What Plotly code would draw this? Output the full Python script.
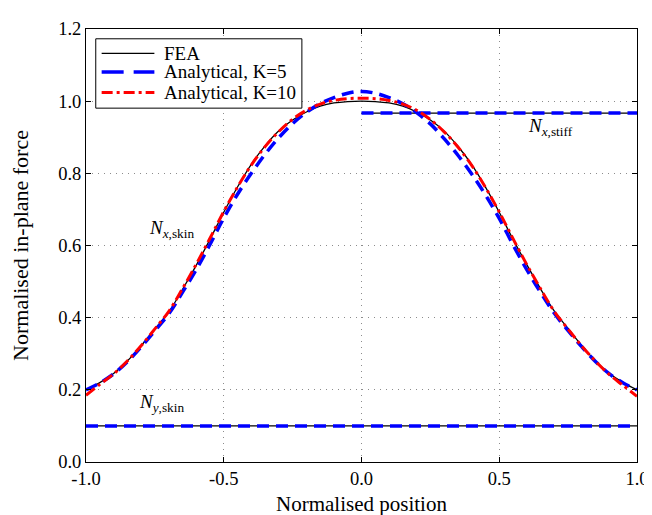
import plotly.graph_objects as go

# ---- data ----
x_pos = [-1.0, -0.95, -0.9, -0.85, -0.8, -0.75, -0.7, -0.65, -0.6, -0.55, -0.5,
         -0.45, -0.4, -0.35, -0.3, -0.25, -0.2, -0.15, -0.1, -0.05, 0.0,
         0.05, 0.1, 0.15, 0.2, 0.25, 0.3, 0.35, 0.4, 0.45, 0.5,
         0.55, 0.6, 0.65, 0.7, 0.75, 0.8, 0.85, 0.9, 0.95, 1.0]

fea_nx_skin = [0.200, 0.220, 0.245, 0.280, 0.322, 0.369, 0.415, 0.478, 0.545, 0.617, 0.692,
               0.762, 0.825, 0.876, 0.918, 0.948, 0.970, 0.986, 0.995, 0.999, 1.000,
               0.999, 0.995, 0.986, 0.970, 0.948, 0.917, 0.875, 0.824, 0.762, 0.692,
               0.617, 0.547, 0.480, 0.418, 0.370, 0.322, 0.280, 0.245, 0.220, 0.200]

k5_nx_skin = [0.200, 0.219, 0.244, 0.278, 0.319, 0.364, 0.410, 0.470, 0.533, 0.603, 0.676,
              0.742, 0.800, 0.853, 0.899, 0.938, 0.969, 0.993, 1.010, 1.022, 1.027,
              1.022, 1.010, 0.993, 0.968, 0.937, 0.896, 0.850, 0.798, 0.740, 0.675,
              0.602, 0.533, 0.470, 0.412, 0.364, 0.319, 0.278, 0.244, 0.219, 0.200]

k10_nx_skin = [0.185, 0.215, 0.244, 0.280, 0.322, 0.369, 0.417, 0.480, 0.548, 0.620, 0.694,
               0.762, 0.823, 0.874, 0.916, 0.950, 0.975, 0.992, 1.002, 1.007, 1.008,
               1.007, 1.002, 0.992, 0.975, 0.949, 0.915, 0.873, 0.822, 0.761, 0.693,
               0.619, 0.547, 0.480, 0.417, 0.368, 0.321, 0.279, 0.242, 0.212, 0.182]

x_stiff = [0.0, 1.0]
nx_stiff = [0.967, 0.967]

x_ny = [-1.0, 1.0]
ny_skin = [0.1, 0.1]

x_ticks = [-1.0, -0.5, 0.0, 0.5, 1.0]
x_ticktext = ["-1.0", "-0.5", "0.0", "0.5", "1.0"]
y_ticks = [0.0, 0.2, 0.4, 0.6, 0.8, 1.0, 1.2]
y_ticktext = ["0.0", "0.2", "0.4", "0.6", "0.8", "1.0", "1.2"]

labels = ["FEA", "Analytical, K=5", "Analytical, K=10"]

FONT = "Liberation Serif, Times New Roman, serif"
BLUE_DASH = "12px,7px"
RED_DASHDOT = "11px,4px,3px,4px"

styles = [
    dict(color="black", width=1.3, dash="solid"),
    dict(color="#0000ff", width=3.5, dash=BLUE_DASH),
    dict(color="#ff0000", width=3, dash=RED_DASHDOT),
]

fig = go.Figure()

# FEA (black)
fig.add_trace(go.Scatter(x=x_pos, y=fea_nx_skin, mode="lines", name=labels[0],
                         line=styles[0], line_shape="spline"))
fig.add_trace(go.Scatter(x=x_stiff, y=nx_stiff, mode="lines", name=labels[0],
                         line=styles[0]))
fig.add_trace(go.Scatter(x=x_ny, y=ny_skin, mode="lines", name=labels[0],
                         line=styles[0]))

# Analytical K=5 (blue dashed)
fig.add_trace(go.Scatter(x=x_pos, y=k5_nx_skin, mode="lines", name=labels[1],
                         line=styles[1], line_shape="spline"))
fig.add_trace(go.Scatter(x=x_stiff, y=nx_stiff, mode="lines", name=labels[1],
                         line=styles[1]))
fig.add_trace(go.Scatter(x=x_ny, y=ny_skin, mode="lines", name=labels[1],
                         line=styles[1]))

# Analytical K=10 (red dash-dot)
fig.add_trace(go.Scatter(x=x_pos, y=k10_nx_skin, mode="lines", name=labels[2],
                         line=styles[2], line_shape="spline"))

# ---- curve labels ----
annotations = [
    dict(x=-0.69, y=0.645, text="<i>N</i><sub><i>x</i>,skin</sub>"),
    dict(x=0.685, y=0.928, text="<i>N</i><sub><i>x</i>,stiff</sub>"),
    dict(x=-0.725, y=0.163, text="<i>N</i><sub><i>y</i>,skin</sub>"),
]
for a in annotations:
    fig.add_annotation(x=a["x"], y=a["y"], text=a["text"], showarrow=False,
                       font=dict(family=FONT, size=19, color="black"),
                       xanchor="center", yanchor="middle")

# ---- legend box (drawn in paper coordinates, MATLAB style) ----
fig.add_shape(type="rect", xref="paper", yref="paper",
              x0=0.0177, x1=0.3918, y0=0.8172, y1=0.9774,
              line=dict(color="black", width=1), fillcolor="white", layer="above")
legend_rows = [0.9436, 0.9007, 0.8533]
legend_dash = ["solid", "22px,10px", RED_DASHDOT]
for lab, st, ly, dsh in zip(labels, styles, legend_rows, legend_dash):
    fig.add_shape(type="line", xref="paper", yref="paper",
                  x0=0.0284, x1=0.1241, y0=ly, y1=ly, layer="above",
                  line=dict(color=st["color"], width=st["width"], dash=dsh))
    fig.add_annotation(xref="paper", yref="paper", x=0.1383, y=ly, text=lab,
                       showarrow=False, xanchor="left", yanchor="middle",
                       font=dict(family=FONT, size=19, color="black"))

axis_common = dict(
    showline=True, linecolor="black", linewidth=1, mirror="ticks",
    ticks="inside", ticklen=5, tickcolor="black", tickwidth=1,
    showgrid=True, gridcolor="#8c8c8c", griddash="1px,5px", gridwidth=1,
    zeroline=False,
    tickfont=dict(family=FONT, size=18.5, color="black"),
)

fig.update_xaxes(range=[-1.0, 1.0], tickvals=x_ticks, ticktext=x_ticktext,
                 title=dict(text="Normalised position", font=dict(family=FONT, size=21, color="black"),
                            standoff=8),
                 **axis_common)
fig.update_yaxes(range=[0.0, 1.2], tickvals=y_ticks, ticktext=y_ticktext,
                 title=dict(text="Normalised in-plane force", font=dict(family=FONT, size=22, color="black"),
                            standoff=24),
                 **axis_common)

fig.update_layout(
    width=652, height=515,
    margin=dict(l=77, r=11, t=17, b=55),
    paper_bgcolor="white", plot_bgcolor="white",
    font=dict(family=FONT, size=18, color="black"),
    showlegend=False,
)

fig.write_html("out.html")
